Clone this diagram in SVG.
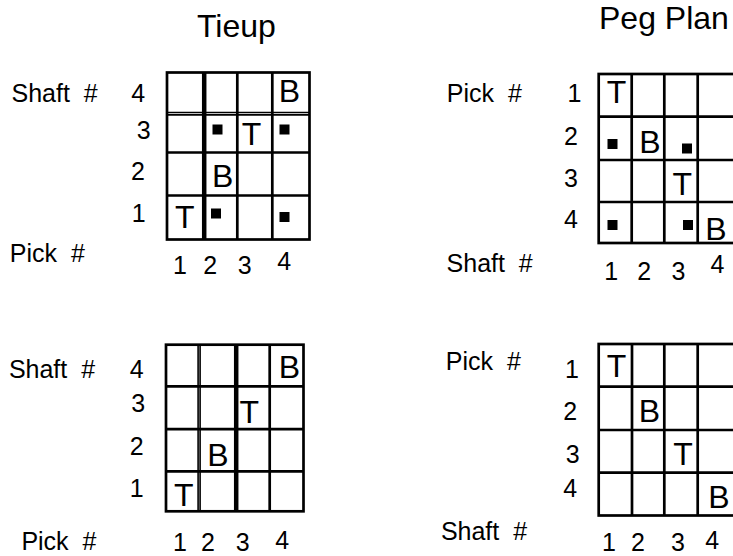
<svg xmlns="http://www.w3.org/2000/svg" width="733" height="556" viewBox="0 0 733 556">
<style>
text{font-family:"Liberation Sans",Arial,Helvetica,sans-serif;fill:#000}
.lbl{font-size:25px}
.num{font-size:25px;text-anchor:middle}
.ttl{font-size:32px}
.cell{font-size:32px;text-anchor:middle}
.grid{stroke:#000;stroke-width:2.7;fill:none}
.thin{stroke:#000;stroke-width:1.6;fill:none}
.thick{stroke:#000;stroke-width:4.5;fill:none}
.dot{fill:#000}
</style>
<rect width="733" height="556" fill="#fff"/>
<text class="ttl" x="197" y="36.7">Tieup</text>
<text class="ttl" x="599" y="28.5">Peg Plan</text>

<g id="tieup-top">
<text class="lbl" x="11.5" y="102">Shaft&#160;&#160;#</text>
<text class="lbl" x="9.8" y="262">Pick&#160;&#160;#</text>
<text class="num" x="138.3" y="102">4</text>
<text class="num" x="143.8" y="138.5">3</text>
<text class="num" x="138" y="180">2</text>
<text class="num" x="138.7" y="221.7">1</text>
<text class="num" x="180" y="273.5">1</text>
<text class="num" x="210.3" y="273.5">2</text>
<text class="num" x="244.8" y="273.5">3</text>
<text class="num" x="284.2" y="270">4</text>
<rect class="grid" x="167" y="72.5" width="142.5" height="167"/>
<path class="grid" d="M167 152.5H309.5M167 195.5H309.5M237.3 72.5V239.5M272.3 72.5V239.5"/>
<path class="thin" d="M167 112.5H309.5M167 114.9H309.5"/>
<path class="thick" d="M204.2 72.5V239.5"/>
<text class="cell" x="289.3" y="101.7">B</text>
<text class="cell" x="251.5" y="145">T</text>
<text class="cell" x="222.7" y="186.7">B</text>
<text class="cell" x="184.7" y="228.3">T</text>
<rect class="dot" x="212.5" y="124.5" width="10" height="10"/>
<rect class="dot" x="279.5" y="124.5" width="10" height="10"/>
<rect class="dot" x="211" y="208.5" width="10" height="10"/>
<rect class="dot" x="279.5" y="212" width="10" height="10"/>
</g>

<g id="pegplan-top">
<text class="lbl" x="446.8" y="101.7">Pick&#160;&#160;#</text>
<text class="lbl" x="446.6" y="271.7">Shaft&#160;&#160;#</text>
<text class="num" x="574.4" y="101.7">1</text>
<text class="num" x="571" y="145">2</text>
<text class="num" x="571" y="186.7">3</text>
<text class="num" x="571" y="228.3">4</text>
<text class="num" x="611.1" y="280">1</text>
<text class="num" x="644.3" y="280">2</text>
<text class="num" x="678.5" y="280">3</text>
<text class="num" x="717.5" y="273.3">4</text>
<rect class="grid" x="598.7" y="74" width="142" height="169"/>
<path class="grid" d="M598.7 116.7H740M598.7 160H740M598.7 202H740M631.7 74V243M664.3 74V243M697.7 74V243"/>
<text class="cell" x="616.5" y="103.3">T</text>
<rect class="dot" x="607.5" y="139" width="10" height="10"/>
<text class="cell" x="650" y="153.3">B</text>
<rect class="dot" x="682" y="143.5" width="10" height="10"/>
<text class="cell" x="682.2" y="195">T</text>
<rect class="dot" x="607.5" y="220" width="10" height="10"/>
<rect class="dot" x="683" y="220" width="10" height="10"/>
<text class="cell" x="715.8" y="240">B</text>
</g>

<g id="tieup-bottom">
<text class="lbl" x="8.9" y="378.3">Shaft&#160;&#160;#</text>
<text class="lbl" x="21.4" y="549.5">Pick&#160;&#160;#</text>
<text class="num" x="136.7" y="378.3">4</text>
<text class="num" x="138.3" y="411.7">3</text>
<text class="num" x="136.7" y="455">2</text>
<text class="num" x="136.7" y="496.7">1</text>
<text class="num" x="180" y="550.5">1</text>
<text class="num" x="208" y="550.5">2</text>
<text class="num" x="242.7" y="550.5">3</text>
<text class="num" x="282.2" y="548.5">4</text>
<rect class="grid" x="166" y="344.7" width="137.5" height="166.6"/>
<path class="grid" d="M166 386.3H303.5M166 429.2H303.5M166 471.3H303.5M269.7 344.7V511.3"/>
<path class="thin" d="M198.1 344.7V511.3M200.1 344.7V511.3"/>
<path class="thick" d="M236.2 344.7V511.3"/>
<text class="cell" x="289.3" y="378.3">B</text>
<text class="cell" x="249.3" y="423">T</text>
<text class="cell" x="218" y="465.8">B</text>
<text class="cell" x="183.8" y="505.8">T</text>
</g>

<g id="pegplan-bottom">
<text class="lbl" x="445.8" y="370">Pick&#160;&#160;#</text>
<text class="lbl" x="440.9" y="539.5">Shaft&#160;&#160;#</text>
<text class="num" x="571.9" y="378.3">1</text>
<text class="num" x="570.2" y="420">2</text>
<text class="num" x="572.7" y="463.3">3</text>
<text class="num" x="570.2" y="497">4</text>
<text class="num" x="608.9" y="550.5">1</text>
<text class="num" x="638" y="550.5">2</text>
<text class="num" x="678" y="550.5">3</text>
<text class="num" x="712.3" y="548.5">4</text>
<rect class="grid" x="598.7" y="344" width="142" height="171.5"/>
<path class="grid" d="M598.7 386.7H740M598.7 430H740M598.7 472.7H740M632 344V515.5M664.3 344V515.5M697.7 344V515.5"/>
<text class="cell" x="616.5" y="377.3">T</text>
<text class="cell" x="649.3" y="421.7">B</text>
<text class="cell" x="683" y="465">T</text>
<text class="cell" x="719" y="508.3">B</text>
</g>
</svg>
